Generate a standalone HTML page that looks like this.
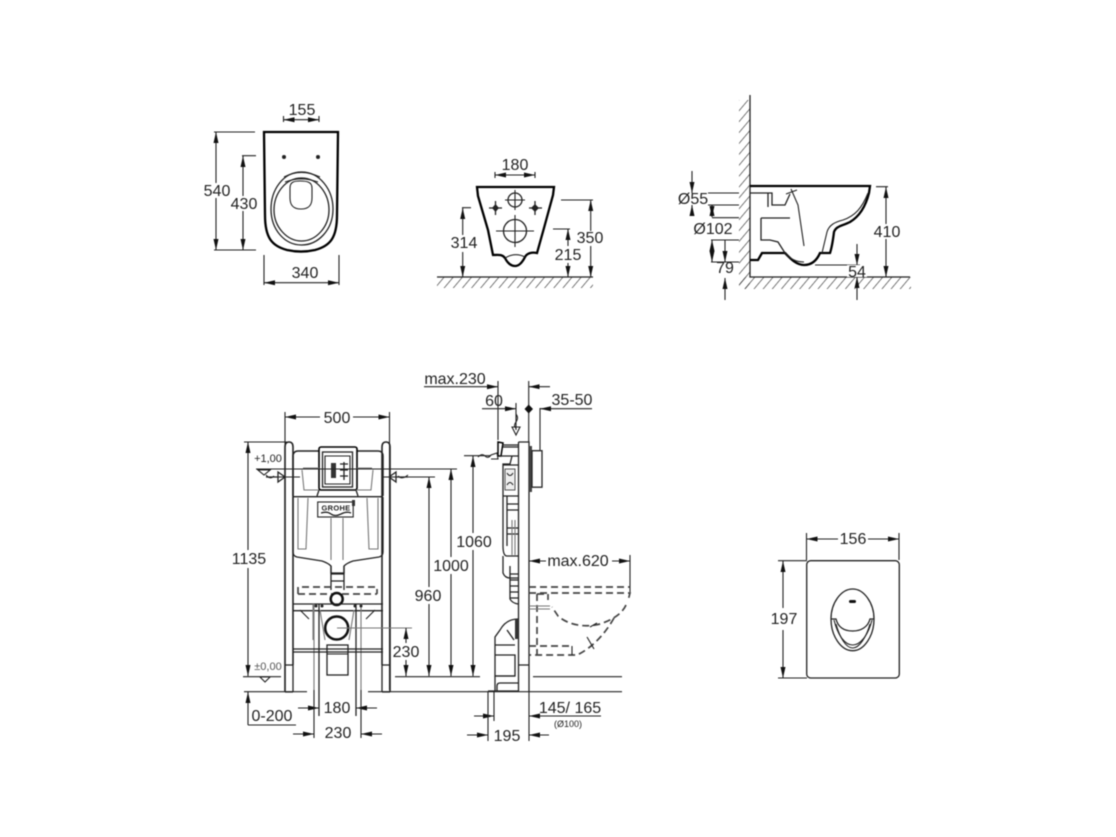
<!DOCTYPE html>
<html><head><meta charset="utf-8"><style>
html,body{margin:0;padding:0;background:#fff;width:1116px;height:837px;overflow:hidden}
svg{display:block;filter:blur(.4px)}
text{font-family:"Liberation Sans",sans-serif;font-size:16px;fill:#222;text-anchor:middle}
.d{stroke:#222;stroke-width:1.1;fill:none}
.a{stroke:#222;stroke-width:1.1;fill:none;marker-end:url(#ar)}
.b{stroke:#222;stroke-width:1.1;fill:none;marker-start:url(#ars);marker-end:url(#ar)}
.k{stroke:#000;stroke-width:2.300;fill:none}
.m{stroke:#222;stroke-width:1.300;fill:none}
.g{stroke:#777;stroke-width:1.100;fill:none}
.t{stroke:#444;stroke-width:1.700;fill:none;stroke-dasharray:7 4}
</style></head><body>
<svg width="1116" height="837" viewBox="0 0 1116 837" xmlns="http://www.w3.org/2000/svg">
<defs>
<marker id="ar" markerWidth="12" markerHeight="8" refX="11" refY="4" orient="auto" markerUnits="userSpaceOnUse"><path d="M0 1.500L11 4L0 6.500Z" fill="#111"/></marker>
<marker id="ars" markerWidth="12" markerHeight="8" refX="0" refY="4" orient="auto" markerUnits="userSpaceOnUse"><path d="M11 1.500L0 4L11 6.500Z" fill="#111"/></marker>
<pattern id="h" width="7" height="7" patternUnits="userSpaceOnUse" patternTransform="rotate(40)"><line x1="0" y1="0" x2="0" y2="7" stroke="#333" stroke-width="1.300"/></pattern>
</defs>

<!-- TOP VIEW -->
<path class="k" d="M264 132H338L337 215C337 238 330 246 315 250C306 252 296 252 287 250C272 246 265 238 265 215Z"/>
<circle cx="284" cy="157" r="2" fill="#222"/><circle cx="318" cy="157" r="2" fill="#222"/>
<path class="m" d="M301.500 172C320 172 333 190 333 209C333 230 318 245 301.500 245C285 245 271 230 271 209C271 190 283 172 301.500 172Z"/>
<path class="m" d="M301.500 178C318 178 329 194 329 210C329 227 316 241 301.500 241C287 241 274 227 274 210C274 194 285 178 301.500 178Z"/>
<path class="d" d="M284 177Q301 168 320 177M285 182Q301 176 318 182"/>
<path class="d" d="M290 188C290 182 294 181 300 181C307 181 312 182 312 188V198C312 206 308 209 301 209C294 209 290 206 290 198Z"/>
<text x="302" y="115">155</text>
<path class="d" d="M283.500 116V122M319 116V122"/>
<path class="b" d="M283.500 119.700H319"/>
<path class="d" d="M214 132H255M214 250H256M242 155.700H256M264 255V285M339 255V285"/>
<path class="b" d="M216 132V250"/>
<path class="b" d="M243 156V250"/>
<rect x="204" y="183" width="26" height="15" fill="#fff"/>
<rect x="231" y="196" width="26" height="15" fill="#fff"/>
<text x="217" y="196">540</text><text x="244" y="209">430</text>
<text x="305" y="278">340</text>
<path class="b" d="M264 282.700H339"/>

<!-- FRONT VIEW -->
<path class="k" d="M477 187H554L553 195L544 228L537 253C532 252 527 253 525 257C522 263 519 266 515 266C510 266 507 262 505 258C502 254 498 255 493 255L488 230L478 196Z"/>
<path class="d" d="M505 258Q515 252 525 257"/>
<circle class="m" cx="515" cy="200" r="7"/><circle class="m" cx="515" cy="231" r="11.500"/>
<path class="d" d="M505 200H525M515 190V210M496 231H534M515 215V247"/>
<path class="m" d="M489 208H502M495.500 201V215M529 208H542M535 201V215"/>
<path d="M495.500 204L499 208L495.500 212L492 208Z M535 204L539 208L535 212L531 208Z" fill="#222"/>
<text x="515" y="170">180</text>
<path class="d" d="M495 172V178M535 172V178"/><path class="b" d="M495 175H535"/>
<path class="d" d="M462 207.700H471M561 200H593M553 229H570"/>
<path class="b" d="M462.700 208V277"/>
<rect x="450" y="235" width="30" height="17" fill="#fff"/>
<text x="464" y="248">314</text>
<path class="b" d="M590.700 200V277"/>
<rect x="575" y="231" width="32" height="15" fill="#fff"/>
<text x="590" y="243">350</text>
<path class="b" d="M568 229V277"/>
<rect x="553" y="246" width="30" height="17" fill="#fff"/>
<text x="568" y="260">215</text>
<rect x="437" y="277" width="156" height="11" fill="url(#h)"/>
<path class="m" d="M437 277H593"/>

<!-- SIDE VIEW -->
<rect x="739" y="100" width="11" height="189" fill="url(#h)"/>
<rect x="739" y="277" width="172" height="12" fill="url(#h)"/>
<path class="m" d="M750 95V277H910"/>
<path class="k" d="M750 186H870L869 193C866 205 860 216 850 222C842 226 836 226 834 232C833 240 832 247 830 253H820C817 260 812 265 804 265C796 265 790 258 785 253H762L758 260H750"/>
<path class="m" d="M750 193H772V205H785L790 194M768 193V207"/>
<path class="d" d="M791 189L798 205L804 246M786 194L797 190"/>
<path class="m" d="M761 218V240H770L778 242L785 253M761 218H790"/>
<path class="d" d="M868 193C862 208 855 216 843 220C835 222 829 225 827 232L822 253"/>
<path class="d" d="M785 253C790 259 796 262 804 262"/>
<path class="d" d="M708 193H739M708 205H739M712 217.700H739M711 240H739M711 262H739M876 186.700H888M815 265H860"/>
<path class="a" d="M692 171V193"/><path class="a" d="M692 216V205"/>
<path class="b" d="M712 205V217"/>
<path class="b" d="M712 240V262"/>
<path class="a" d="M725 240V262"/><path class="a" d="M725 300V278"/>
<text x="693" y="204">Ø55</text><text x="713" y="234">Ø102</text><text x="725" y="273">79</text>
<path class="b" d="M886 187V277"/>
<rect x="872" y="224" width="31" height="15" fill="#fff"/>
<text x="887" y="237">410</text>
<path class="a" d="M857 244V265"/><path class="a" d="M857 300V277"/>
<rect x="847" y="265" width="20" height="12" fill="#fff"/>
<text x="857" y="277">54</text>

<!-- INSTALLATION FRONT -->
<text x="337" y="423">500</text>
<path class="d" d="M285 412V690M389.500 412V690"/>
<path class="a" d="M320 417H285"/><path class="a" d="M353 417H389.500"/>
<path class="k" style="stroke-width:1.600;stroke:#222" d="M285 447Q285 442 289 442Q293 442 293 447V665M285 447V692M382 447Q382 442 386 442Q390 442 390 447V692M382 447V665"/>
<path class="m" d="M293 665H285M382 665H390M293 665V692M382 665V692M285 692H293M382 692H390"/>
<path class="k" style="stroke-width:1.500;stroke:#222" d="M293 455Q294 451 298 451H319M357 451H378Q383 451 383 456V496M293 455V496"/>
<rect x="319" y="447" width="38" height="43" rx="2" class="k" style="stroke-width:1.600" fill="#fff"/>
<rect x="322.500" y="452" width="30" height="35" class="m"/>
<path class="d" d="M325 456H350V484H325Z"/>
<rect x="331" y="463" width="5" height="15" fill="#333"/>
<path class="m" d="M340 464H348M340 470H348M340 476H348M344 462V480"/>
<path class="m" d="M293 496.700H383M319 490L317 496M356 490L358 496"/>
<path class="m" d="M293 497V552Q293 556 297 557L322 561Q328 563 331 566V573H344V566Q347 563 353 561L379 557Q383 556 383 552V497"/>
<path class="g" d="M298 498V549H306L308 498M367 498L369 549H378V498M331 518V560M343 518V560M302 470L304 490H319M373 470L371 490H356M303 468H319M357 468H372"/>
<rect x="317.700" y="502" width="35.500" height="15" class="d"/>
<text x="336" y="510.500" style="font-size:7.500px;font-weight:bold;letter-spacing:.3px">GROHE</text>
<path class="m" d="M321 513Q327 511 331 514T341 514T351 513"/>
<path d="M352 500h3v6h-3z" fill="#333"/>
<path class="m" d="M331 566V590M344 566V590M331 574H344M331 581H344"/>
<path class="t" d="M298 594V587H377V594M298 594H377"/>
<circle cx="336.700" cy="599" r="6" fill="#fff" stroke="#111" stroke-width="2.500"/>
<path class="m" d="M293 604H383M293 610.700H383"/>
<path class="d" d="M300 610L309 619M375 610L366 619"/>
<path class="g" d="M313 604V640M314 604V690M361 604V690M320 610L325 640M354 610L349 640"/>
<path class="m" d="M319 604V716M356 604V716"/>
<circle cx="316" cy="606" r="1.500" fill="#222"/><circle cx="322" cy="606" r="1.500" fill="#222"/><circle cx="355" cy="606" r="1.500" fill="#222"/><circle cx="361" cy="606" r="1.500" fill="#222"/>
<rect x="326" y="612" width="21" height="8" fill="#fff"/>
<circle cx="336.700" cy="628" r="11.500" fill="#fff" stroke="#111" stroke-width="2.500"/>
<path class="m" d="M293 649H383M293 652H383"/>
<rect x="327" y="645" width="21" height="30" class="m"/>
<path class="d" d="M327 654H348"/>
<path class="g" d="M337 628H412"/>
<path class="d" d="M244 442H290M256 469H457M270 477H300M383 477H435M243 676.700H281M395 676.700H480M244 691.700H307M368 691.700H622M533 676.700H622"/>
<path class="b" d="M248 442V676"/>
<rect x="232" y="550" width="34" height="18" fill="#fff"/>
<text x="249" y="564">1135</text>
<text x="268" y="462" style="font-size:11px">+1,00</text>
<text x="268" y="670" style="font-size:11px;fill:#555">±0,00</text>
<path class="d" d="M258 470H270L264 475ZM260 677H270L265 682Z"/>
<path class="m" d="M266 477H278M278 472L285 477L278 482ZM396 472L389 477L396 482ZM396 477H408"/>
<path class="d" d="M266 475Q270 480 274 476M398 476Q402 480 408 475"/>
<path class="b" d="M406 628V676"/>
<rect x="392" y="643" width="28" height="17" fill="#fff"/>
<text x="406" y="657">230</text>
<path class="b" d="M429 477V676"/>
<rect x="414" y="587" width="30" height="17" fill="#fff"/>
<text x="428" y="601">960</text>
<path class="b" d="M451 469V676"/>
<rect x="433" y="557" width="36" height="17" fill="#fff"/>
<text x="451" y="571">1000</text>
<path class="b" d="M473 456V676"/>
<rect x="456" y="533" width="36" height="17" fill="#fff"/>
<text x="474" y="547">1060</text>
<path class="d" d="M464 455.700H490"/>
<text x="272" y="721">0-200</text>
<path class="a" d="M248 725V692"/><path class="d" d="M248 725H296"/>
<text x="337" y="713">180</text>
<path class="a" d="M298 708H319"/><path class="a" d="M377 708H356"/>
<path class="d" d="M314 690V738M361 690V738"/>
<text x="338" y="738">230</text>
<path class="a" d="M293 734H314"/><path class="a" d="M382 734H361"/>

<!-- INSTALLATION SIDE -->
<text x="455" y="384">max.230</text>
<path class="a" d="M424 386.700H498"/><path class="d" d="M498 381V440"/>
<text x="494" y="406">60</text>
<path class="a" d="M482 408.700H516"/><path class="d" d="M516 403V430"/>
<text x="572" y="405">35-50</text>
<path class="a" d="M592 408.700H540"/><path class="d" d="M540 408V450"/>
<path class="d" d="M528.700 381V442"/>
<path class="a" d="M550 386.700H528.700"/>
<path d="M528.700 404.500L533 409L528.700 413.500L524.500 409Z" fill="#111"/>
<path class="d" d="M516 414Q519 418 516 422T516 428"/>
<path class="d" d="M512 427H520L516 435Z"/>
<path class="m" d="M518.500 442H529V692M518.500 442V692M518.500 665H529"/>
<rect x="529" y="446" width="3" height="46" fill="#444"/>
<rect x="532" y="450.700" width="10" height="36.500" class="m"/>
<path class="k" d="M498 442L503 443L501 456H498Z" style="stroke-width:1.500"/>
<path class="m" d="M503 445H518M503 447H518M500 456H518"/>
<path class="d" d="M478 457Q482 453 485 456T491 455L497 453L498 459L491 459"/>
<path class="m" d="M512 456L510 464H503V546Q503 556 507 556H518M503 465H518"/>
<rect x="505" y="469" width="10" height="21" fill="#eee" stroke="#555"/>
<path class="d" d="M507 473Q510 478 513 473M507 485Q510 480 513 485"/>
<path class="m" d="M503 496H518M507 496V546M507 504H518M507 510H518M507 528H518M507 534H518"/>
<path class="g" d="M512 520V555M515 520V555"/>
<path class="m" d="M503 556V573Q505 578 510 578H518M510 566V598H518M510 574H518M510 580H518M510 586H518M510 592H518M510 598V599Q512 603 518 604"/>
<path class="m" d="M518 619Q506 619 500 630L495 637V645M495 645H515M495 655V676H515L515 655H495V645M507 630L514 640"/>
<rect x="515" y="619" width="3.500" height="20" fill="#333"/>
<path class="m" d="M495 676H515M495 676V691M497 691V686Q497 683 500 683H518M518 691H488"/>
<text x="578" y="566">max.620</text>
<path class="a" d="M546 561H529"/><path class="a" d="M612 561H630"/>
<path class="d" d="M630 555V592"/>
<path class="t" d="M529 587H630M529 593H630L628 601"/>
<path class="t" d="M626 605C622 614 612 620 600 624C585 628 568 625 558 616L552 607"/>
<path class="t" d="M614 618C605 634 592 648 577 655H529M529 646H572"/>
<path class="t" d="M537 594V655M537 594H548V600"/>
<path class="g" d="M529 606H550M529 609H550"/><path class="d" d="M587 637L594 649M572 646V655M590 627L597 623"/>
<text x="570" y="713">145/ 165</text>
<path class="a" d="M601 716H529"/>
<text x="568" y="727" style="font-size:9px">(Ø100)</text>
<path class="a" d="M474 716H494"/>
<path class="d" d="M494 692V721M488 692V741M529 692V741"/>
<text x="507" y="741">195</text>
<path class="a" d="M467 735H488"/><path class="a" d="M549 735H529"/>

<!-- FLUSH PLATE -->
<rect x="806.700" y="560.700" width="92.600" height="117.300" rx="4" class="m"/>
<text x="853" y="544">156</text>
<path class="d" d="M806.500 533V560M899 533V560"/>
<path class="a" d="M838 539H806.500"/><path class="a" d="M868 539H899"/>
<text x="784" y="624">197</text>
<path class="d" d="M778 560.700H807M778 678H807"/>
<path class="a" d="M783 608V561"/><path class="a" d="M783 630V678"/>
<path class="m" d="M852.700 589C864 589 874 603 874 619C874 636 864 650.700 852.700 650.700C841 650.700 831 636 831 619C831 603 841 589 852.700 589Z"/>
<path class="m" d="M831 619H836C838 627 844 631 852.700 631C861 631 868 627 870 619H874"/>
<path class="d" d="M834 620C838 636 845 645 852.700 645C860 645 868 636 872 620"/>
<path class="d" d="M836 624C840 638 846 648 852.700 648C859 648 866 638 870 624"/>
<rect x="849" y="600" width="7" height="3" rx="1.500" fill="#111"/>
</svg>
</body></html>
